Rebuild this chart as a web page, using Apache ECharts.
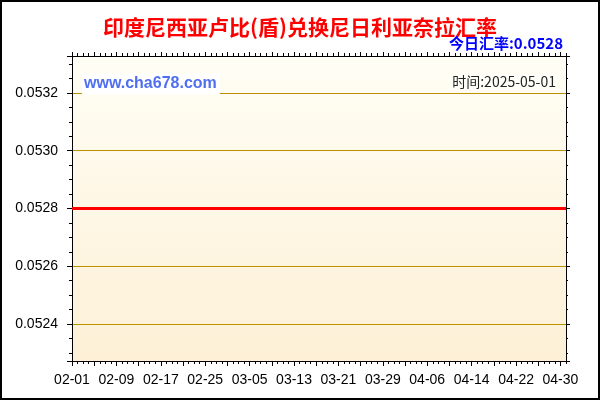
<!DOCTYPE html>
<html>
<head>
<meta charset="utf-8">
<script src="https://cdn.jsdelivr.net/npm/echarts@6/dist/echarts.min.js"></script>
<style>
  html, body { margin: 0; padding: 0; background: #fff; }
  #chart { width: 600px; height: 400px; }
</style>
</head>
<body>
<div id="chart"></div>
<script>
const dates = [
  '02-01', '02-02', '02-03', '02-04', '02-05', '02-06', '02-07', '02-08', '02-09', '02-10',
  '02-11', '02-12', '02-13', '02-14', '02-15', '02-16', '02-17', '02-18', '02-19', '02-20',
  '02-21', '02-22', '02-23', '02-24', '02-25', '02-26', '02-27', '02-28',
  '03-01', '03-02', '03-03', '03-04', '03-05', '03-06', '03-07', '03-08', '03-09', '03-10',
  '03-11', '03-12', '03-13', '03-14', '03-15', '03-16', '03-17', '03-18', '03-19', '03-20',
  '03-21', '03-22', '03-23', '03-24', '03-25', '03-26', '03-27', '03-28', '03-29', '03-30', '03-31',
  '04-01', '04-02', '04-03', '04-04', '04-05', '04-06', '04-07', '04-08', '04-09', '04-10',
  '04-11', '04-12', '04-13', '04-14', '04-15', '04-16', '04-17', '04-18', '04-19', '04-20',
  '04-21', '04-22', '04-23', '04-24', '04-25', '04-26', '04-27', '04-28', '04-29', '04-30',
  '05-01'
];

const rates = [
  0.0528, 0.0528, 0.0528, 0.0528, 0.0528, 0.0528, 0.0528, 0.0528, 0.0528, 0.0528,
  0.0528, 0.0528, 0.0528, 0.0528, 0.0528, 0.0528, 0.0528, 0.0528, 0.0528, 0.0528,
  0.0528, 0.0528, 0.0528, 0.0528, 0.0528, 0.0528, 0.0528, 0.0528,
  0.0528, 0.0528, 0.0528, 0.0528, 0.0528, 0.0528, 0.0528, 0.0528, 0.0528, 0.0528,
  0.0528, 0.0528, 0.0528, 0.0528, 0.0528, 0.0528, 0.0528, 0.0528, 0.0528, 0.0528,
  0.0528, 0.0528, 0.0528, 0.0528, 0.0528, 0.0528, 0.0528, 0.0528, 0.0528, 0.0528, 0.0528,
  0.0528, 0.0528, 0.0528, 0.0528, 0.0528, 0.0528, 0.0528, 0.0528, 0.0528, 0.0528,
  0.0528, 0.0528, 0.0528, 0.0528, 0.0528, 0.0528, 0.0528, 0.0528, 0.0528, 0.0528,
  0.0528, 0.0528, 0.0528, 0.0528, 0.0528, 0.0528, 0.0528, 0.0528, 0.0528, 0.0528,
  0.0528
];

const yMin = 0.052272;
const yMax = 0.053328;
const yLabelStep = 0.0002;

const titleText = '印度尼西亚卢比(盾)兑换尼日利亚奈拉汇率';
const todayText = '今日汇率:0.0528';
const timeText = '时间:2025-05-01';
const siteText = 'www.cha678.com';

const chart = echarts.init(document.getElementById('chart'));

function yLabel(value) {
  const steps = value / yLabelStep;
  if (Math.abs(steps - Math.round(steps)) > 1e-6) {
    return '';
  }
  return value.toFixed(4);
}

function categoryAxis(position, tickInterval, tickLength, withLabels) {
  return {
    type: 'category',
    data: dates,
    position: position,
    boundaryGap: false,
    axisLine: { show: true, lineStyle: { color: '#000', width: 1 } },
    axisTick: {
      show: true,
      interval: tickInterval,
      length: tickLength,
      lineStyle: { color: '#000', width: 1 }
    },
    axisLabel: {
      show: withLabels,
      interval: 7,
      margin: 12,
      color: '#000',
      fontSize: 14,
      fontFamily: 'Liberation Sans'
    },
    splitLine: { show: false }
  };
}

function valueAxis(position, withLabels, tickLength, minorLength) {
  return {
    type: 'value',
    position: position,
    min: yMin,
    max: yMax,
    axisLine: { show: true, lineStyle: { color: '#000', width: 1 } },
    axisTick: { show: true, length: tickLength, lineStyle: { color: '#000' } },
    minorTick: { show: true, splitNumber: 4, length: minorLength, lineStyle: { color: '#000' } },
    axisLabel: {
      show: withLabels,
      formatter: yLabel,
      margin: 14,
      color: '#000',
      fontSize: 14,
      fontFamily: 'Liberation Sans',
      showMinLabel: false,
      showMaxLabel: false
    },
    splitLine: {
      show: withLabels,
      lineStyle: { color: '#bf9000', width: 1 }
    }
  };
}

chart.setOption({
  animation: false,
  backgroundColor: '#fff',
  title: {
    text: titleText,
    left: 'center',
    top: 12,
    textStyle: {
      color: '#ff0000',
      fontSize: 21,
      fontWeight: 'bold',
      fontFamily: 'Noto Sans CJK SC'
    }
  },
  grid: {
    left: 72,
    right: 34,
    top: 56,
    bottom: 39,
    show: true,
    borderWidth: 0,
    backgroundColor: new echarts.graphic.LinearGradient(0, 0, 0, 1, [
      { offset: 0, color: '#fffef5' },
      { offset: 1, color: '#fdf0d6' }
    ])
  },
  xAxis: [
    categoryAxis('bottom', 3, 5, true),
    categoryAxis('bottom', 0, 3, false),
    categoryAxis('top', 3, 4, false),
    categoryAxis('top', 0, 3, false)
  ],
  yAxis: [
    valueAxis('left', true, 5, 3),
    valueAxis('right', false, 4, 2)
  ],
  series: [
    {
      type: 'line',
      xAxisIndex: 0,
      yAxisIndex: 0,
      data: rates,
      symbol: 'none',
      z: 5,
      lineStyle: { color: '#ff0000', width: 3 }
    }
  ],
  graphic: [
    {
      type: 'rect',
      shape: { x: 1, y: 1, width: 598, height: 398 },
      style: { fill: 'none', stroke: '#000', lineWidth: 2 },
      z: 100
    },
    {
      type: 'text',
      x: 563,
      y: 43,
      style: {
        text: todayText,
        fill: '#0000ff',
        font: 'bold 15px "Noto Sans CJK SC"',
        textAlign: 'right',
        textVerticalAlign: 'middle'
      },
      z: 100
    },
    {
      type: 'text',
      x: 82,
      y: 84,
      style: {
        text: siteText,
        fill: '#506ef0',
        font: 'bold 16px "Liberation Sans"',
        textAlign: 'left',
        textVerticalAlign: 'middle',
        backgroundColor: '#ffffff',
        padding: [3, 3, 2, 2]
      },
      z: 100
    },
    {
      type: 'text',
      x: 557,
      y: 82,
      style: {
        text: timeText,
        fill: '#222',
        font: '14px "Noto Sans CJK SC"',
        textAlign: 'right',
        textVerticalAlign: 'middle',
        backgroundColor: '#fffffa',
        padding: [1, 1, 1, 3]
      },
      z: 100
    }
  ]
});

window.addEventListener('resize', () => {
  chart.resize();
});
</script>
</body>
</html>
